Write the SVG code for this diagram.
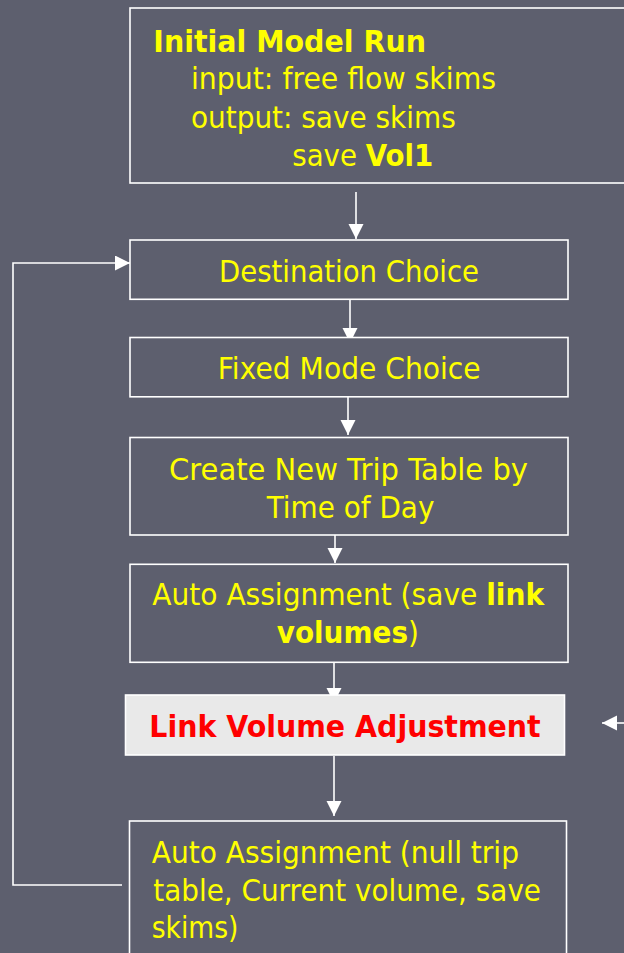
<svg xmlns="http://www.w3.org/2000/svg" width="624" height="953" viewBox="0 0 624 953">
<style>
.bg{fill:#5d5f6e}
.box{fill:#5d5f6e;stroke:#ffffff;stroke-width:1.6}
.lva{fill:#e9e9e9;stroke:#ffffff;stroke-width:1.6}
.t{font-family:"DejaVu Sans","Liberation Sans",sans-serif;font-size:30px;fill:#ffff00}
.b{font-weight:bold}
.r{fill:#ff0000;font-weight:bold}
.c{fill:none;stroke:#ffffff;stroke-width:1.6}
</style>
<defs>
<marker id="ah" markerUnits="userSpaceOnUse" markerWidth="16" markerHeight="16" refX="15" refY="7.5" orient="auto">
<path d="M0,0 L15,7.5 L0,15 z" fill="#ffffff"/>
</marker>
</defs>
<rect class="bg" x="0" y="0" width="624" height="953"/>
<g id="connectors">
<line class="c" x1="356" y1="192" x2="356" y2="239" marker-end="url(#ah)"/>
<line class="c" x1="350" y1="295" x2="350" y2="343" marker-end="url(#ah)"/>
<line class="c" x1="348" y1="389" x2="348" y2="435" marker-end="url(#ah)"/>
<line class="c" x1="335" y1="535" x2="335" y2="563" marker-end="url(#ah)"/>
<line class="c" x1="334" y1="663" x2="334" y2="703" marker-end="url(#ah)"/>
<line class="c" x1="334" y1="756" x2="334" y2="816" marker-end="url(#ah)"/>
<polyline class="c" points="122,885 13,885 13,263 130,263" marker-end="url(#ah)"/>
<line class="c" x1="626" y1="723" x2="602" y2="723" marker-end="url(#ah)"/>
</g>
<g id="node-initial">
<rect class="box" x="130" y="8" width="520" height="175"/>
<text class="t b" x="153.3" y="51.7" textLength="272.7" lengthAdjust="spacingAndGlyphs">Initial Model Run</text>
<text class="t" x="191" y="89.3" textLength="305" lengthAdjust="spacingAndGlyphs">input: free flow skims</text>
<text class="t" x="191" y="127.7" textLength="264.7" lengthAdjust="spacingAndGlyphs">output: save skims</text>
<text class="t" x="292.3" y="165.7" textLength="141" lengthAdjust="spacingAndGlyphs">save <tspan class="b">Vol1</tspan></text>
</g>
<g id="node-destination">
<rect class="box" x="130" y="240" width="438" height="59.3"/>
<text class="t" x="219" y="281.7" textLength="260" lengthAdjust="spacingAndGlyphs">Destination Choice</text>
</g>
<g id="node-fixedmode">
<rect class="box" x="130" y="337.5" width="438" height="59.3"/>
<text class="t" x="217.7" y="379" textLength="263" lengthAdjust="spacingAndGlyphs">Fixed Mode Choice</text>
</g>
<g id="node-triptable">
<rect class="box" x="130" y="437.5" width="438" height="97.5"/>
<text class="t" x="169" y="480" textLength="359" lengthAdjust="spacingAndGlyphs">Create New Trip Table by</text>
<text class="t" x="266.7" y="517.7" textLength="167.7" lengthAdjust="spacingAndGlyphs">Time of Day</text>
</g>
<g id="node-autoassign">
<rect class="box" x="130" y="564.3" width="438" height="98"/>
<text class="t" transform="translate(152.3,605) scale(0.936,1)">Auto Assignment (save <tspan class="b">link</tspan></text>
<text class="t" transform="translate(276.7,642.7) scale(0.93,1)"><tspan class="b">volumes</tspan>)</text>
</g>
<g id="node-lva">
<rect class="lva" x="125.5" y="695" width="439" height="60"/>
<text class="t r" x="149.3" y="736.7" textLength="391.4" lengthAdjust="spacingAndGlyphs">Link Volume Adjustment</text>
</g>
<g id="node-autoassign-null">
<rect class="box" x="129.5" y="821" width="437" height="150"/>
<text class="t" x="151.7" y="862.7" textLength="367.3" lengthAdjust="spacingAndGlyphs">Auto Assignment (null trip</text>
<text class="t" x="153.3" y="900.7" textLength="387.7" lengthAdjust="spacingAndGlyphs">table, Current volume, save</text>
<text class="t" x="151.7" y="938.3" textLength="86.7" lengthAdjust="spacingAndGlyphs">skims)</text>
</g>
</svg>
